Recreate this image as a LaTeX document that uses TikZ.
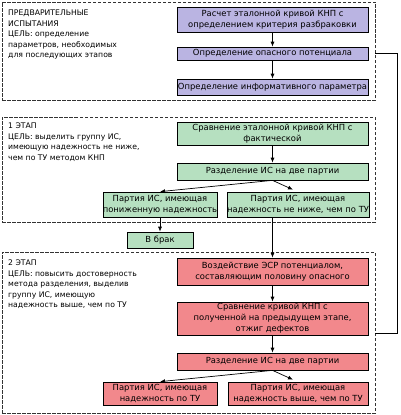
\documentclass[tikz,border=0pt]{standalone}
\usepackage{fontspec}
\setmainfont{DejaVu Sans}
\usetikzlibrary{calc,arrows.meta}
\definecolor{prefill}{RGB}{186,180,226}
\definecolor{onefill}{RGB}{182,224,192}
\definecolor{twofill}{RGB}{242,136,140}
\begin{document}
\begin{tikzpicture}[x=1pt,y=-1pt,
    frame/.style={draw=black!80, dashed, dash pattern=on 3.5pt off 1.5pt, line width=0.9pt, inner sep=0pt},
    blk/.style={draw, line width=0.7pt, inner sep=0pt, align=center, minimum width=191pt,
        font=\fontsize{8.4}{11}\selectfont},
    goal/.style={anchor=north west, align=left, inner sep=0pt, font=\fontsize{7.7}{10.5}\selectfont},
    arr/.style={-{Latex[length=5pt,width=4pt]}, line width=0.7pt}]
\useasboundingbox (0,0) rectangle (400,415);
\node[frame, minimum width=373pt, minimum height=98pt] (preframe) at (188.5,51) {};
\node[frame, minimum width=373pt, minimum height=105pt] (oneframe) at (188.5,169.5) {};
\node[frame, minimum width=373pt, minimum height=161pt] (twoframe) at (188.5,332.5) {};

\node[goal] (pretext) at (8,10) {ПРЕДВАРИТЕЛЬНЫЕ\\ИСПЫТАНИЯ\\ЦЕЛЬ: определение\\параметров, необходимых\\для последующих этапов};
\node[goal] (onetext) at (8,123) {1 ЭТАП\\ЦЕЛЬ: выделить группу ИС,\\имеющую надежность не ниже,\\чем по ТУ методом КНП};
\node[goal] (twotext) at (8,260) {2 ЭТАП\\ЦЕЛЬ: повысить достоверность\\метода разделения, выделив\\группу ИС, имеющую\\надежность выше, чем по ТУ};

\node[blk, fill=prefill, minimum height=25pt] (raschet) at (272.5,19.5) {Расчет эталонной кривой КНП с\\определением критерия разбраковки};
\node[blk, fill=prefill, minimum height=13pt] (opasn) at (272.5,53.5) {Определение опасного потенциала};
\node[blk, fill=prefill, minimum height=16pt] (inform) at (272.5,87) {Определение информативного параметра};

\node[blk, fill=onefill, minimum height=23pt] (sravn) at (272.5,133.5) {Сравнение эталонной кривой КНП с\\фактической};
\node[blk, fill=onefill, minimum height=17pt] (razd) at (272.5,171.5) {Разделение ИС на две партии};
\node[blk, fill=onefill, minimum width=114pt, minimum height=25pt] (ponizh) at (160,204.5) {Партия ИС, имеющая\\пониженную надежность};
\node[blk, fill=onefill, minimum width=140pt, minimum height=25pt] (nenizhe) at (298,204.5) {Партия ИС, имеющая\\надежность не ниже, чем по ТУ};
\node[blk, fill=onefill, minimum width=66pt, minimum height=16pt] (brak) at (160,240) {В брак};

\node[blk, fill=twofill, minimum height=27pt] (vozd) at (272.5,271.5) {Воздействие ЭСР потенциалом,\\составляющим половину опасного};
\node[blk, fill=twofill, minimum height=33pt] (sravntwo) at (272.5,318.5) {Сравнение кривой КНП с\\полученной на предыдущем этапе,\\отжиг дефектов};
\node[blk, fill=twofill, minimum height=17pt] (razdtwo) at (272.5,361.5) {Разделение ИС на две партии};
\node[blk, fill=twofill, minimum width=114pt, minimum height=23pt] (potu) at (160,393.5) {Партия ИС, имеющая\\надежность по ТУ};
\node[blk, fill=twofill, minimum width=140pt, minimum height=23pt] (vyshe) at (298,393.5) {Партия ИС, имеющая\\надежность выше, чем по ТУ};

\draw[arr] (raschet) -- (opasn);
\draw[arr] (opasn) -- (inform);
\draw[arr] (sravn) -- (razd);
\draw[arr] (razd.south) -- (ponizh.north);
\draw[arr] (razd.south) -- ($(nenizhe.north)+(-5,-2)$);
\draw[arr] (ponizh) -- (brak);
\draw[arr] (vozd.north |- nenizhe.south) -- (vozd.north);
\draw[arr] (vozd) -- (sravntwo);
\draw[arr] (sravntwo) -- (razdtwo);
\draw[arr] (razdtwo.south) -- (potu.north);
\draw[arr] (razdtwo.south) -- ($(vyshe.north)+(-5,-2)$);

\coordinate (corner) at (397,333);
\draw[line width=0.7pt] (preframe.east |- opasn) -| (corner) -- (twoframe.east |- corner);
\end{tikzpicture}
\end{document}
